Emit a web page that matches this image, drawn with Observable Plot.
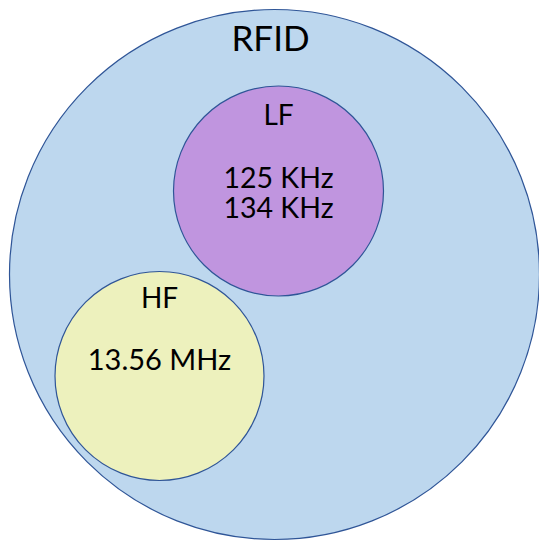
<!DOCTYPE html>
<html>
<head>
<meta charset="utf-8">
<script src="https://cdn.jsdelivr.net/npm/d3@7"></script>
<script src="https://cdn.jsdelivr.net/npm/@observablehq/plot@0.6"></script>
<style>
  html, body { margin: 0; padding: 0; background: #ffffff; }
  #chart svg { display: block; }
</style>
</head>
<body>
<div id="chart"></div>
<script>
// Sets (circles) in a 539x544 coordinate space
const setNames = ["RFID", "LF", "HF"];
const setCx = [274, 278, 159];
const setCy = [274, 190.5, 375.5];
const setR = [265, 105, 104.5];
const setFill = ["#bdd7ee", "#c095df", "#edf1bd"];

// Labels
const labelText = ["RFID", "LF", "125 KHz\n134 KHz", "HF", "13.56 MHz"];
const labelX = [270, 278, 278, 159, 159];
const labelY = [50, 124, 217, 307, 369];
const labelSize = [35, 28, 28.5, 28, 29];

const circles = setNames.map((n, i) => ({name: n, cx: setCx[i], cy: setCy[i], r: setR[i], fill: setFill[i]}));
const labels = labelText.map((t, i) => ({text: t, x: labelX[i], y: labelY[i], size: labelSize[i]}));

const chart = Plot.plot({
  width: 539,
  height: 544,
  margin: 0,
  style: {background: "#ffffff", fontFamily: "Lato, 'Open Sans', sans-serif"},
  x: {domain: [0, 539], range: [0, 539], axis: null},
  y: {domain: [0, 544], range: [0, 544], axis: null},
  r: {type: "linear", domain: [0, 300], range: [0, 300]},
  marks: [
    Plot.dot(circles, {x: "cx", y: "cy", r: "r", fill: d => d.fill, stroke: "#2f5597", strokeWidth: 1.2}),
    ...labels.map(l => Plot.text([l], {x: "x", y: "y", text: "text", fontSize: l.size, lineHeight: 30 / l.size, fill: "#000000", lineAnchor: "bottom", textAnchor: "middle", fontFamily: "Lato, 'Open Sans', sans-serif"}))
  ]
});
document.getElementById("chart").appendChild(chart);
</script>
</body>
</html>
